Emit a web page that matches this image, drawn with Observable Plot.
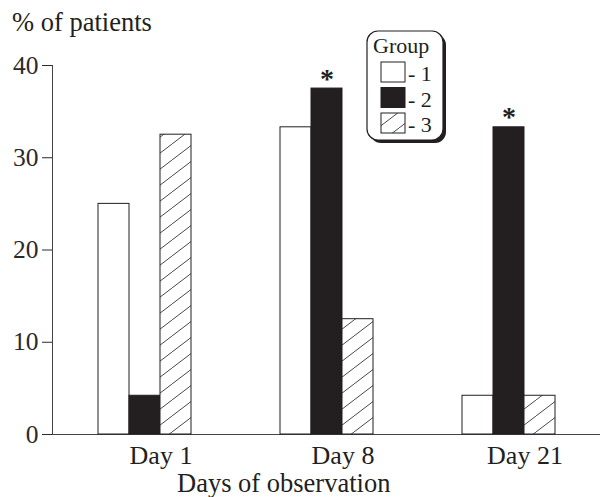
<!DOCTYPE html>
<html>
<head>
<meta charset="utf-8">
<script src="https://cdn.jsdelivr.net/npm/d3@7"></script>
<script src="https://cdn.jsdelivr.net/npm/@observablehq/plot@0.6"></script>
<style>
  body { margin: 0; background: #fff; }
  #chart { position: relative; width: 600px; height: 497px; font-family: "Liberation Serif", "Times New Roman", serif; }
  #chart svg { position: absolute; left: 0; top: 0; }
</style>
</head>
<body>
<div id="chart"></div>
<script>
// Share of patients per observation day and treatment group
const days = ["Day 1", "Day 8", "Day 21"];
const groups = ["1", "2", "3"];
const group1 = [25, 33.3, 4.2];
const group2 = [4.2, 37.5, 33.3];
const group3 = [32.5, 12.5, 4.2];
// bars flagged as significant (asterisk)
const starred = [{day: "Day 8", group: "2"}, {day: "Day 21", group: "2"}];
const yTicks = [0, 10, 20, 30, 40];
const yTitle = "% of patients";
const xTitle = "Days of observation";
const legendTitle = "Group";

const ink = "#231f20";
const fills = {"1": "#ffffff", "2": ink, "3": "url(#hatch)"};
const series = {"1": group1, "2": group2, "3": group3};

const rows = days.flatMap((day, i) => groups.map(g => ({day, group: g, value: series[g][i]})));
const starRows = starred.map(s => ({...s, value: series[s.group][days.indexOf(s.day)]}));

const W = 600, H = 497;
const margins = {marginTop: 65, marginBottom: 63, marginLeft: 52, marginRight: 0};
const font = '"Liberation Serif", "Times New Roman", serif';
const chart = document.getElementById("chart");

// diagonal hatch used for group 3
function addHatch(svg, id) {
  const defs = svg.insert("defs", ":first-child");
  const p = defs.append("pattern")
    .attr("id", id).attr("patternUnits", "userSpaceOnUse")
    .attr("width", 21).attr("height", 16);
  p.append("rect").attr("width", 21).attr("height", 16).attr("fill", "#fff");
  p.append("path")
    .attr("d", "M-21,16L0,0M0,16L21,0M21,16L42,0")
    .attr("stroke", "#333").attr("stroke-width", 0.9).attr("fill", "none");
}

// axes layer: y axis with ticks, left line and baseline across the full width
const axes = Plot.plot({
  width: W, height: H, ...margins,
  style: {fontFamily: font, fontSize: "25.5px", color: "#2a2a2a", background: "transparent", overflow: "visible"},
  x: {domain: [0, 1], axis: null},
  y: {domain: [0, 40], ticks: yTicks, tickSize: 10, tickPadding: 4, label: null},
  marks: [
    Plot.ruleY([0], {stroke: "#444"}),
    Plot.ruleX([0], {stroke: "#444"})
  ]
});
chart.appendChild(axes);

// bars layer: one facet per day, one band per group
const bars = Plot.plot({
  width: W, height: H, ...margins,
  style: {fontFamily: font, fontSize: "26px", color: ink, background: "transparent", overflow: "visible"},
  fx: {domain: days, paddingInner: 0.49, paddingOuter: 0.245, label: null},
  x: {domain: groups, padding: 0, axis: null},
  y: {domain: [0, 40], axis: null},
  color: {type: "identity"},
  marks: [
    Plot.barY(rows, {fx: "day", x: "group", y: "value", fill: d => fills[d.group], stroke: ink, strokeWidth: 1}),
    Plot.text(starRows, {fx: "day", x: "group", y: "value", text: () => "*", lineAnchor: "bottom", dy: -1, fontSize: 28, fontWeight: "bold", fill: ink}),
    Plot.axisFx({anchor: "bottom", tickSize: 0, tickPadding: 11, dx: 16, label: null, fontSize: 26})
  ]
});
addHatch(d3.select(bars), "hatch");
chart.appendChild(bars);

// titles and legend
const ann = d3.select(chart).append("svg")
  .attr("width", W).attr("height", H)
  .style("font-family", font);
addHatch(ann, "hatch-key");

ann.append("text").attr("x", 12).attr("y", 31).attr("font-size", 26.5).attr("fill", ink).text(yTitle);
ann.append("text").attr("x", 177).attr("y", 492).attr("font-size", 26.5).attr("fill", ink).text(xTitle);

const key = ann.append("g");
key.append("rect").attr("x", 370).attr("y", 34).attr("width", 76).attr("height", 109).attr("rx", 11).attr("fill", ink);
key.append("rect").attr("x", 367).attr("y", 31).attr("width", 76).attr("height", 109).attr("rx", 11)
  .attr("fill", "#fff").attr("stroke", ink).attr("stroke-width", 1.2);
key.append("text").attr("x", 373).attr("y", 53).attr("font-size", 22).attr("fill", ink).text(legendTitle);
const keyFills = {"1": "#ffffff", "2": ink, "3": "url(#hatch-key)"};
groups.forEach((g, i) => {
  const y0 = 62 + i * 25.5;
  key.append("rect").attr("x", 381).attr("y", y0).attr("width", 24).attr("height", 20)
    .attr("fill", keyFills[g]).attr("stroke", ink).attr("stroke-width", 1);
  key.append("text").attr("x", 408).attr("y", y0 + 19).attr("font-size", 22).attr("fill", ink).text("- " + g);
});
</script>
</body>
</html>
